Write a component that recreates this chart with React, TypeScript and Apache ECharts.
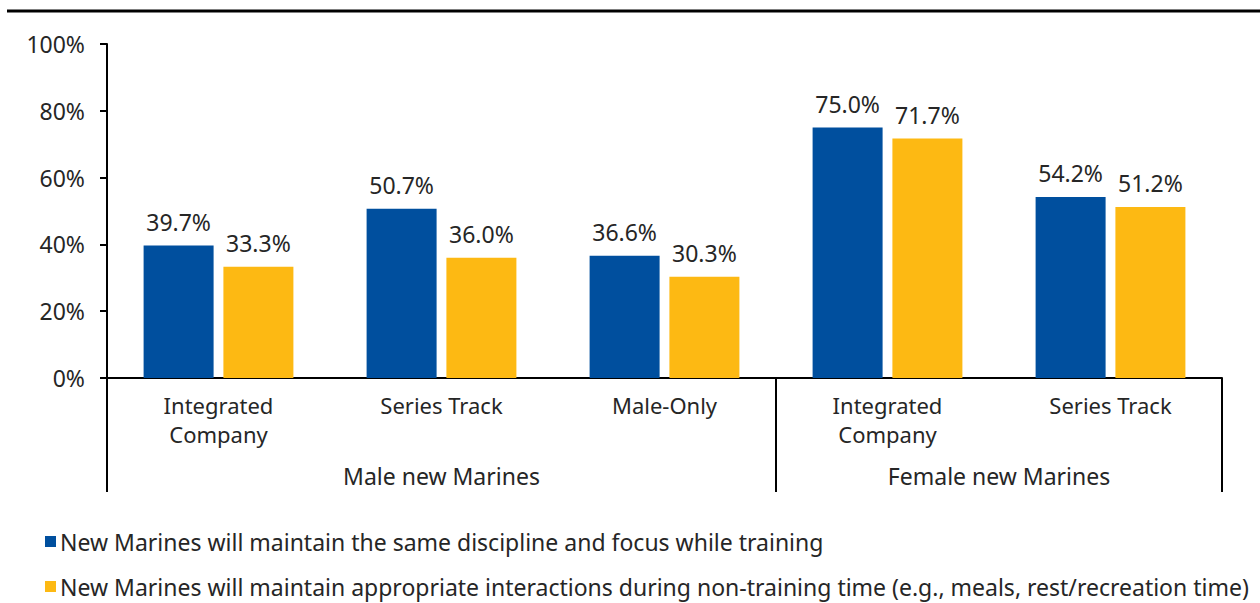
import React, { useEffect, useRef } from "react";
import * as echarts from "echarts";

const categories = ["Integrated\nCompany", "Series Track", "Male-Only", "Integrated\nCompany", "Series Track"];
const groupNames = ["Male new Marines", "Female new Marines"];
const groupBoundaries = [0, 3, 5];
const groupCenters = [1.5, 4];
const seriesNames = [
  "New Marines will maintain the same discipline and focus while training",
  "New Marines will maintain appropriate interactions during non-training time (e.g., meals, rest/recreation time)",
];
const disciplineValues = [39.7, 50.7, 36.6, 75.0, 54.2];
const interactionValues = [33.3, 36.0, 30.3, 71.7, 51.2];

const FONT = "Noto Sans";
const TXT = "#262626";
const FS = 23;

export default function App() {
  const ref = useRef<HTMLDivElement>(null);
  useEffect(() => {
    document.body.style.margin = "0";
    const chart = echarts.init(ref.current!, null, { renderer: "svg" });
    const labelCfg = {
      show: true,
      position: "top" as const,
      distance: 12,
      formatter: (p: any) => p.value.toFixed(1) + "%",
      color: TXT,
      fontSize: FS,
      fontFamily: FONT,
    };
    chart.setOption({
      animation: false,
      textStyle: { fontFamily: FONT },
      grid: { left: 107, right: 38, top: 44, bottom: 225, containLabel: false },
      legend: {
        orient: "vertical",
        left: 45,
        top: 530,
        height: 80,
        padding: 0,
        itemWidth: 11,
        itemHeight: 11,
        itemGap: 22,
        icon: "rect",
        textStyle: { fontSize: FS, color: TXT, fontFamily: FONT, padding: [0, 0, 0, -1] },
      },
      graphic: [
        {
          type: "line",
          shape: { x1: 7, y1: 11, x2: 1260, y2: 11 },
          style: { stroke: "#000", lineWidth: 3 },
        },
      ],
      xAxis: [
        {
          type: "category",
          data: categories,
          axisLine: { lineStyle: { color: "#000", width: 2 } },
          axisTick: { show: false },
          axisLabel: { color: TXT, fontSize: 22, fontFamily: FONT, margin: 12, lineHeight: 29, interval: 0 },
        },
        {
          type: "value",
          min: 0,
          max: 5,
          position: "bottom",
          axisLine: { show: false },
          splitLine: { show: false },
          axisTick: {
            show: true,
            customValues: groupBoundaries,
            length: 114,
            lineStyle: { color: "#000", width: 2 },
          },
          axisLabel: {
            customValues: groupCenters,
            formatter: (v: number) => groupNames[groupCenters.indexOf(v)] ?? "",
            color: TXT,
            fontSize: FS,
            fontFamily: FONT,
            margin: 86,
          },
        },
      ],
      yAxis: {
        type: "value",
        min: 0,
        max: 100,
        interval: 20,
        axisLine: { show: true, lineStyle: { color: "#000", width: 2 } },
        axisTick: { show: true, length: 7, lineStyle: { color: "#000", width: 2 } },
        splitLine: { show: false },
        axisLabel: { formatter: "{value}%", color: TXT, fontSize: FS, fontFamily: FONT, margin: 22 },
      },
      series: [
        {
          name: seriesNames[0],
          type: "bar",
          data: disciplineValues,
          barWidth: 70,
          barGap: "14%",
          itemStyle: { color: "#004F9E" },
          label: labelCfg,
        },
        {
          name: seriesNames[1],
          type: "bar",
          data: interactionValues,
          barWidth: 70,
          barGap: "14%",
          itemStyle: { color: "#FDB913" },
          label: labelCfg,
        },
      ],
    });
    return () => chart.dispose();
  }, []);
  return <div ref={ref} style={{ width: 1260, height: 603 }} />;
}
